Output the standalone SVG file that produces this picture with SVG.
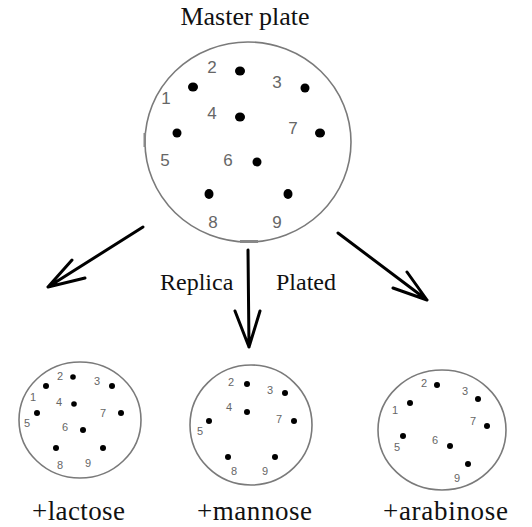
<svg xmlns="http://www.w3.org/2000/svg" width="532" height="527" viewBox="0 0 532 527">
  <style>
    .plate { fill: none; stroke: #7a7a7a; stroke-width: 1.6; }
    .colony { fill: #000; }
    .num { font-family: "Liberation Sans", Arial, sans-serif; fill: #666; text-anchor: middle; }
    .big { font-size: 17px; }
    .small { font-size: 11px; }
    .title { font-family: "Liberation Serif", "Times New Roman", serif; fill: #111; }
    .arrow { fill: none; stroke: #000; stroke-width: 3; stroke-linecap: round; stroke-linejoin: round; }
  </style>
  <rect width="532" height="527" fill="#fff"/>

  <!-- Master plate -->
  <g id="master-plate">
    <text class="title" x="245" y="25" font-size="26" text-anchor="middle">Master plate</text>
    <ellipse class="plate" cx="248" cy="142" rx="103" ry="100"/>
    <rect x="240" y="240" width="18" height="3" fill="#888"/>
    <rect x="143.5" y="133" width="2.5" height="14" fill="#888"/>
    <g class="colonies">
      <ellipse class="colony" cx="240" cy="71" rx="5" ry="4.5"/>
      <ellipse class="colony" cx="193" cy="87" rx="5" ry="4.5"/>
      <ellipse class="colony" cx="305" cy="88" rx="4.5" ry="4.5"/>
      <ellipse class="colony" cx="240" cy="117" rx="5" ry="4.5"/>
      <ellipse class="colony" cx="177" cy="133" rx="4.5" ry="4.5"/>
      <ellipse class="colony" cx="320" cy="133" rx="5" ry="4.5"/>
      <ellipse class="colony" cx="257" cy="162" rx="4.5" ry="4.5"/>
      <ellipse class="colony" cx="209" cy="194" rx="4.5" ry="5"/>
      <ellipse class="colony" cx="288" cy="194" rx="4.5" ry="5"/>
    </g>
    <g class="num big">
      <text x="166" y="104">1</text>
      <text x="212" y="73">2</text>
      <text x="277" y="88">3</text>
      <text x="212" y="119">4</text>
      <text x="165" y="166">5</text>
      <text x="228" y="166">6</text>
      <text x="293" y="134">7</text>
      <text x="213" y="228">8</text>
      <text x="277" y="228">9</text>
    </g>
  </g>

  <!-- Replica-plating arrows -->
  <g id="connectors">
    <path class="arrow" d="M143,227 L48,287 M48,287 L72,260 M48,287 L85,278"/>
    <path class="arrow" d="M248,250 L249,347 M249,347 L235,311 M249,347 L260,311"/>
    <path class="arrow" d="M338,233 L427,300 M427,300 L407,272 M427,300 L393,288"/>
    <text class="title" x="160" y="290" font-size="24">Replica</text>
    <text class="title" x="276" y="290" font-size="24">Plated</text>
  </g>

  <!-- Lactose plate -->
  <g id="lactose-plate">
    <ellipse class="plate" cx="80" cy="420" rx="61" ry="58"/>
    <g class="colonies">
      <circle class="colony" cx="73" cy="377" r="2.8"/>
      <circle class="colony" cx="46" cy="386" r="3"/>
      <circle class="colony" cx="112" cy="386" r="3"/>
      <circle class="colony" cx="74" cy="404" r="2.8"/>
      <circle class="colony" cx="37" cy="413" r="3"/>
      <circle class="colony" cx="121" cy="413" r="3"/>
      <circle class="colony" cx="83" cy="430" r="3"/>
      <circle class="colony" cx="56" cy="448" r="3"/>
      <circle class="colony" cx="103" cy="448" r="3"/>
    </g>
    <g class="num small">
      <text x="33" y="401">1</text>
      <text x="60" y="380">2</text>
      <text x="97" y="385">3</text>
      <text x="59" y="406">4</text>
      <text x="27" y="427">5</text>
      <text x="65" y="431">6</text>
      <text x="103" y="417">7</text>
      <text x="60" y="469">8</text>
      <text x="88" y="467">9</text>
    </g>
    <text class="title" x="32" y="520" font-size="27" textLength="93">+lactose</text>
  </g>

  <!-- Mannose plate -->
  <g id="mannose-plate">
    <ellipse class="plate" cx="251" cy="425" rx="61" ry="60"/>
    <g class="colonies">
      <circle class="colony" cx="247" cy="384" r="3"/>
      <circle class="colony" cx="285" cy="393" r="3"/>
      <circle class="colony" cx="247" cy="412" r="3"/>
      <circle class="colony" cx="209" cy="421" r="3"/>
      <circle class="colony" cx="294" cy="421" r="3"/>
      <circle class="colony" cx="228" cy="457" r="3"/>
      <circle class="colony" cx="275" cy="457" r="3"/>
    </g>
    <g class="num small">
      <text x="231" y="386">2</text>
      <text x="270" y="394">3</text>
      <text x="229" y="411">4</text>
      <text x="200" y="435">5</text>
      <text x="279" y="423">7</text>
      <text x="234" y="475">8</text>
      <text x="265" y="475">9</text>
    </g>
    <text class="title" x="197" y="520" font-size="27" textLength="115">+mannose</text>
  </g>

  <!-- Arabinose plate -->
  <g id="arabinose-plate">
    <ellipse class="plate" cx="442" cy="430" rx="64" ry="60"/>
    <g class="colonies">
      <circle class="colony" cx="437" cy="385" r="3"/>
      <circle class="colony" cx="410" cy="403" r="3"/>
      <circle class="colony" cx="478" cy="399" r="3"/>
      <circle class="colony" cx="403" cy="436" r="3"/>
      <circle class="colony" cx="487" cy="426" r="3"/>
      <circle class="colony" cx="450" cy="446" r="3"/>
      <circle class="colony" cx="468" cy="464" r="3"/>
    </g>
    <g class="num small">
      <text x="395" y="414">1</text>
      <text x="424" y="387">2</text>
      <text x="465" y="395">3</text>
      <text x="397" y="451">5</text>
      <text x="435" y="444">6</text>
      <text x="473" y="425">7</text>
      <text x="457" y="482">9</text>
    </g>
    <text class="title" x="383" y="520" font-size="27" textLength="125">+arabinose</text>
  </g>
</svg>
